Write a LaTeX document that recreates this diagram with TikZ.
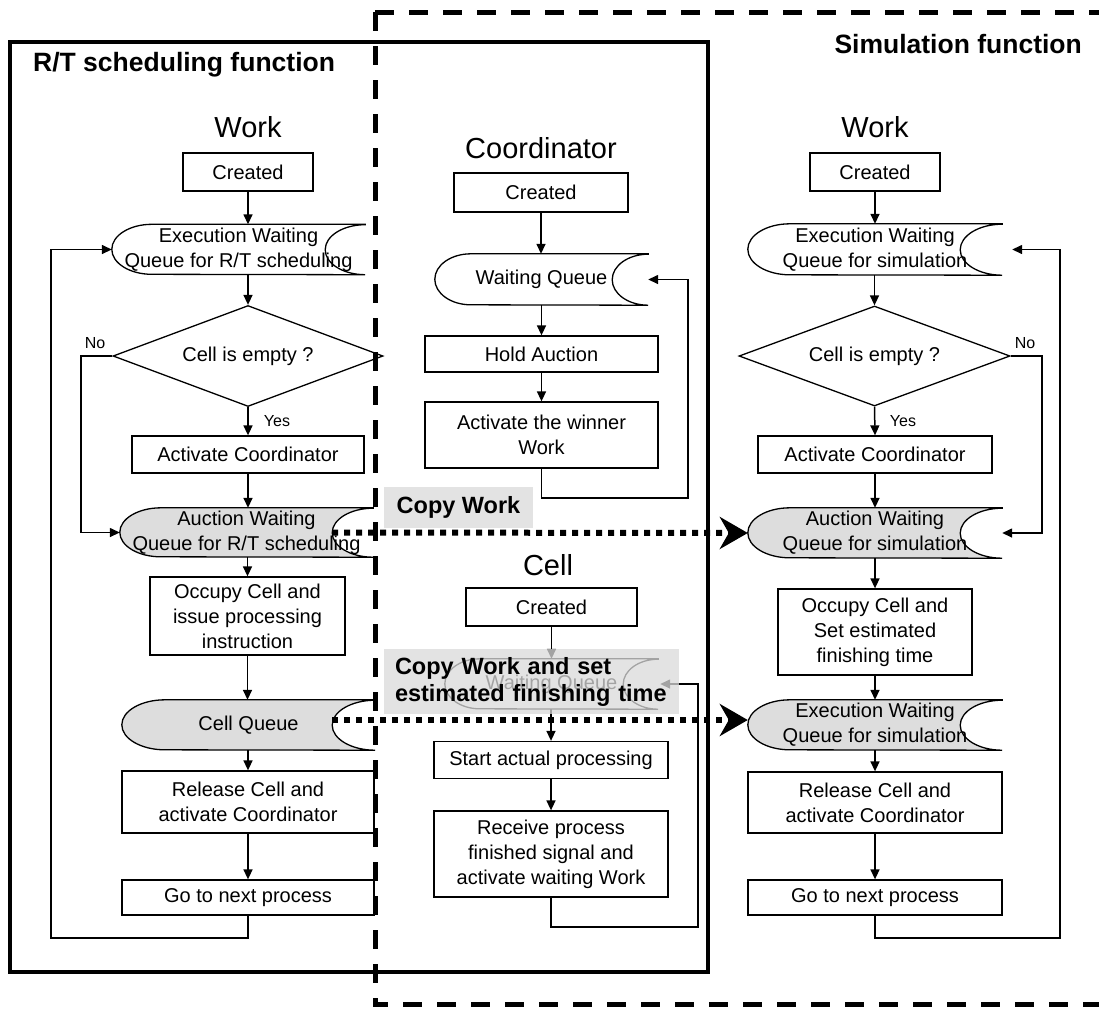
\documentclass[tikz,border=0pt]{standalone}
\usepackage{fontspec}
\setmainfont{Liberation Sans}
\usetikzlibrary{calc,arrows.meta,shapes.geometric,backgrounds}

\definecolor{queuegray}{RGB}{221,221,221}
\definecolor{notegray}{RGB}{218,218,218}

\newcommand\bodyfont{\fontsize{20pt}{25pt}\selectfont}
\newcommand\titlefont{\fontsize{29pt}{34pt}\selectfont}
\newcommand\headfont{\bfseries\fontsize{26.5pt}{31pt}\selectfont}
\newcommand\notefont{\bfseries\fontsize{23.5pt}{27pt}\selectfont}
\newcommand\smallfont{\fontsize{16pt}{19pt}\selectfont}

% outline of a "stored data" queue: convex left end, concave right end
% #1 node name, #2 end depth, #3 half height, #4 fill colour
\newcommand\queueoutline[4]{%
  \path[draw, line width=1.3pt, fill=#4]
    (#1.north east) -- ($(#1.north west)+(#2,0)$)
    arc[start angle=90, end angle=270, x radius=#2pt, y radius=#3pt]
    -- (#1.south east)
    arc[start angle=270, end angle=90, x radius=#2pt, y radius=#3pt]
    -- cycle;}

\begin{document}
\begin{tikzpicture}[x=1pt,y=-1pt,
  box/.style={draw, line width=1.3pt, fill=white, inner sep=0pt, align=center, font=\bodyfont},
  qtext/.style={inner sep=0pt, align=center, font=\bodyfont},
  decision/.style={diamond, draw, line width=1.3pt, fill=white, inner sep=0pt, aspect=2.67, font=\bodyfont},
  title/.style={font=\titlefont, inner sep=0pt},
  small/.style={font=\smallfont, inner sep=0pt},
  flow/.style={line width=1.5pt, -{Triangle[length=10pt,width=9pt]}},
  copyarrow/.style={line width=6pt, dash pattern=on 6pt off 6pt, -{Stealth[length=28pt,width=32pt,inset=9pt]}},
  note/.style={fill=notegray, fill opacity=0.75, text opacity=1, inner sep=0pt, font=\notefont, align=left}
]
\useasboundingbox (0,0) rectangle (1099,1013);

% ---------- headings ----------
\node[font=\headfont, anchor=west, inner sep=0pt] (lblRT) at (33,65) {R/T scheduling function};
\node[font=\headfont, anchor=east, inner sep=0pt] (lblSim) at (1082,44) {Simulation function};

% ---------- Work (R/T scheduling) ----------
\node[title] (tWorkL) at (248,127) {Work};
\node[box, minimum width=130pt, minimum height=38pt] (cL) at (248,172) {Created};
\node[qtext, minimum width=253pt, minimum height=50pt] (eqL) at (238.5,249.5) {Execution Waiting\\Queue for R/T scheduling};
\node[decision, minimum width=270pt, minimum height=101pt] (dL) at (248,356) {Cell is empty ?};
\node[box, minimum width=232pt, minimum height=37pt] (acL) at (248,454.5) {Activate Coordinator};
\node[qtext, minimum width=253pt, minimum height=49pt] (aqL) at (246.5,532.5) {Auction Waiting\\Queue for R/T scheduling};
\node[box, minimum width=195pt, minimum height=78pt] (ocL) at (247.5,616) {Occupy Cell and\\issue processing\\instruction};
\node[qtext, minimum width=253pt, minimum height=50pt] (cqL) at (248.5,725) {Cell Queue};
\node[box, minimum width=252pt, minimum height=62pt] (rcL) at (248,802) {Release Cell and\\activate Coordinator};
\node[box, minimum width=252pt, minimum height=35pt] (gnL) at (248,897.5) {Go to next process};
\node[small] (noLtxt) at (95,343) {No};
\node[small] (yesL) at (277,421) {Yes};

% ---------- Coordinator ----------
\node[title] (tCoord) at (541,148) {Coordinator};
\node[box, minimum width=174pt, minimum height=39pt] (ccr) at (541,192.5) {Created};
\node[qtext, minimum width=213pt, minimum height=51pt] (wqC) at (541.5,279.5) {Waiting Queue};
\node[box, minimum width=233pt, minimum height=36pt] (haC) at (541.5,354) {Hold Auction};
\node[box, minimum width=233pt, minimum height=66pt] (awC) at (541.5,435) {Activate the winner\\Work};

% ---------- Cell ----------
\node[title] (tCell) at (548,565) {Cell};
\node[box, minimum width=171pt, minimum height=38pt] (cellCr) at (551.5,607) {Created};
\node[qtext, minimum width=213pt, minimum height=50pt] (wqCell) at (551.5,684) {Waiting Queue};
\node[box, minimum width=234pt, minimum height=37pt] (spC) at (551,760) {Start actual processing};
\node[box, minimum width=234pt, minimum height=86pt] (rpC) at (551,854) {Receive process\\finished signal and\\activate waiting Work};

% ---------- Work (simulation) ----------
\node[title] (tWorkR) at (875,127) {Work};
\node[box, minimum width=130pt, minimum height=38pt] (cR) at (875,172) {Created};
\node[qtext, minimum width=254pt, minimum height=51pt] (eqR) at (875,249.5) {Execution Waiting\\Queue for simulation};
\node[decision, minimum width=271pt, minimum height=100pt] (dR) at (874.5,356) {Cell is empty ?};
\node[box, minimum width=234pt, minimum height=37pt] (acR) at (875,454.5) {Activate Coordinator};
\node[qtext, minimum width=254pt, minimum height=50pt] (aqR) at (875,533) {Auction Waiting\\Queue for simulation};
\node[box, minimum width=194pt, minimum height=86pt] (ocR) at (875,632) {Occupy Cell and\\Set estimated\\finishing time};
\node[qtext, minimum width=254pt, minimum height=50pt] (xqR) at (875,725) {Execution Waiting\\Queue for simulation};
\node[box, minimum width=254pt, minimum height=61pt] (rcR) at (875,802.5) {Release Cell and\\activate Coordinator};
\node[box, minimum width=254pt, minimum height=35pt] (gnR) at (875,897.5) {Go to next process};
\node[small] (noRtxt) at (1025,343) {No};
\node[small] (yesR) at (903,421) {Yes};

% queue outlines behind their texts
\begin{pgfonlayer}{background}
  \queueoutline{eqL}{40}{25}{white}
  \queueoutline{aqL}{41}{24.5}{queuegray}
  \queueoutline{cqL}{43}{25}{queuegray}
  \queueoutline{wqC}{36}{25.5}{white}
  \queueoutline{wqCell}{35}{25}{white}
  \queueoutline{eqR}{42}{25.5}{white}
  \queueoutline{aqR}{42}{25}{queuegray}
  \queueoutline{xqR}{42}{25}{queuegray}
\end{pgfonlayer}

% loop corners
\coordinate (loopL) at (51,938);
\coordinate (noL) at (81,356);
\coordinate (loopC) at (688,498);
\coordinate (loopCell) at (698,927);
\coordinate (loopR) at (1060,938);
\coordinate (noR) at (1042,356);

% ---------- connectors: Work (R/T) ----------
\draw[flow] (cL.south) -- (cL.south |- eqL.north);
\draw[flow] (dL.north |- eqL.south) -- (dL.north);
\draw[flow] (dL.south) -- (acL.north);
\draw[flow] (acL.south) -- (acL.south |- aqL.north);
\draw[flow] (ocL.north |- aqL.south) -- (ocL.north);
\draw[flow] (ocL.south) -- (ocL.south |- cqL.north);
\draw[flow] (rcL.north |- cqL.south) -- (rcL.north);
\draw[flow] (rcL.south) -- (gnL.north);
\draw[flow] (gnL.south) |- (loopL) |- (eqL.west);
\draw[flow] (dL.west) -- (noL) |- (aqL.west);

% ---------- connectors: Coordinator ----------
\draw[flow] (ccr.south) -- (ccr.south |- wqC.north);
\draw[flow] (haC.north |- wqC.south) -- (haC.north);
\draw[flow] (haC.south) -- (awC.north);
\draw[flow] (awC.south) |- (loopC) |- (wqC.east);

% ---------- connectors: Cell ----------
\draw[flow] (cellCr.south) -- (cellCr.south |- wqCell.north);
\draw[flow] (spC.north |- wqCell.south) -- (spC.north);
\draw[flow] (spC.south) -- (rpC.north);
\draw[flow] (rpC.south) |- (loopCell) |- ($(wqCell.east)+(2,0)$);

% ---------- connectors: Work (simulation) ----------
\draw[flow] (cR.south) -- (cR.south |- eqR.north);
\draw[flow] (dR.north |- eqR.south) -- (dR.north);
\draw[flow] (dR.south) -- (acR.north);
\draw[flow] (acR.south) -- (acR.south |- aqR.north);
\draw[flow] (ocR.north |- aqR.south) -- (ocR.north);
\draw[flow] (ocR.south) -- (ocR.south |- xqR.north);
\draw[flow] (rcR.north |- xqR.south) -- (rcR.north);
\draw[flow] (rcR.south) -- (gnR.north);
\draw[flow] (gnR.south) |- (loopR) |- ($(eqR.east)+(10,0)$);
\draw[flow] (dR.east) -- (noR) |- (aqR.east);

% ---------- copy notes ----------
\node[note, minimum width=149pt, minimum height=41pt] (copyA) at (458.5,507.5) {Copy Work};
\node[note, minimum width=295pt, minimum height=65pt, text width=273pt, inner xsep=11pt] (copyB) at (531.5,681.5) {Copy Work and set\\estimated finishing time};

% ---------- function frames ----------
\draw[line width=4.5pt, line join=miter] (10,42) rectangle (708,972);
\draw[line width=5pt, dash pattern=on 19pt off 15pt] (375,12) -- (1120,12);
\draw[line width=5pt, dash pattern=on 19pt off 15pt] (375,12) -- (375,1004) -- (1120,1004);

% ---------- copy arrows ----------
\draw[copyarrow] ($(aqL.east)+(-41,0)$) -- (aqR.west);
\draw[copyarrow] ($(cqL.east)+(-43,-5)$) -- ($(xqR.west)+(0,-5)$);

\end{tikzpicture}
\end{document}
